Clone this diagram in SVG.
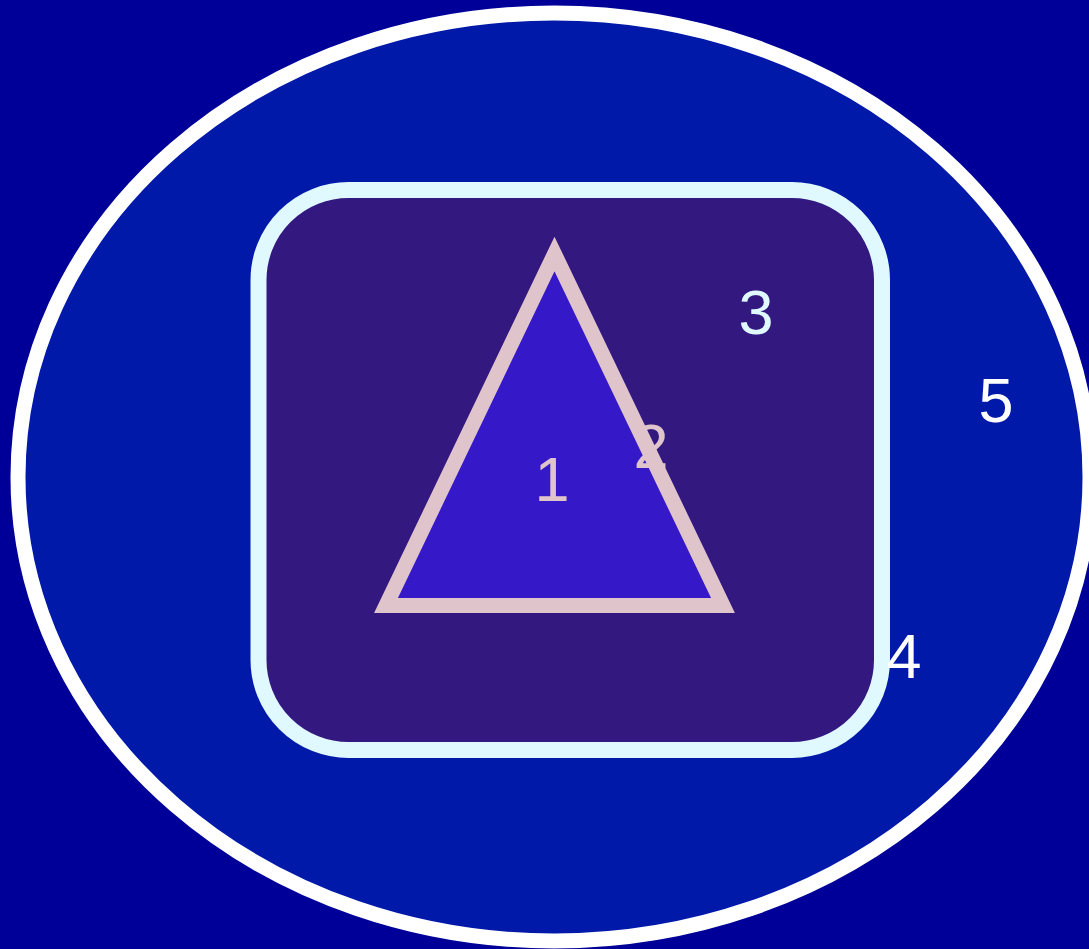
<svg xmlns="http://www.w3.org/2000/svg" width="1089" height="949" viewBox="0 0 1089 949">
<style>
.lbl{font-family:"Liberation Sans",Arial,sans-serif;font-size:63px;text-anchor:middle}
</style>
<rect x="0" y="0" width="1089" height="949" fill="#000099"/>
<g id="node5">
<ellipse cx="554" cy="477" rx="536" ry="464" fill="#0019A8" stroke="#FFFFFF" stroke-width="15"/>
<text class="lbl" x="996" y="422" fill="#FFFFFF">5</text>
</g>
<g id="node4">
<rect x="258.5" y="190" width="623.5" height="560" rx="90" ry="90" fill="#331880" stroke="#E0F8FF" stroke-width="16"/>
<text class="lbl" x="904" y="678" fill="#FFFFFF">4</text>
</g>
<g id="node3">
<text class="lbl" x="756" y="334" fill="#E0F8FF">3</text>
</g>
<g id="node2">
<polygon points="554.5,254 723,605.5 386,605.5" fill="#3518C8" stroke="#E0C4CC" stroke-width="15" stroke-linejoin="miter" stroke-miterlimit="10"/>
<text class="lbl" x="651" y="468" fill="#E0C4CC">2</text>
</g>
<g id="node1">
<text class="lbl" x="552" y="501" fill="#E0C4CC">1</text>
</g>
<g id="connectors"></g>
</svg>
